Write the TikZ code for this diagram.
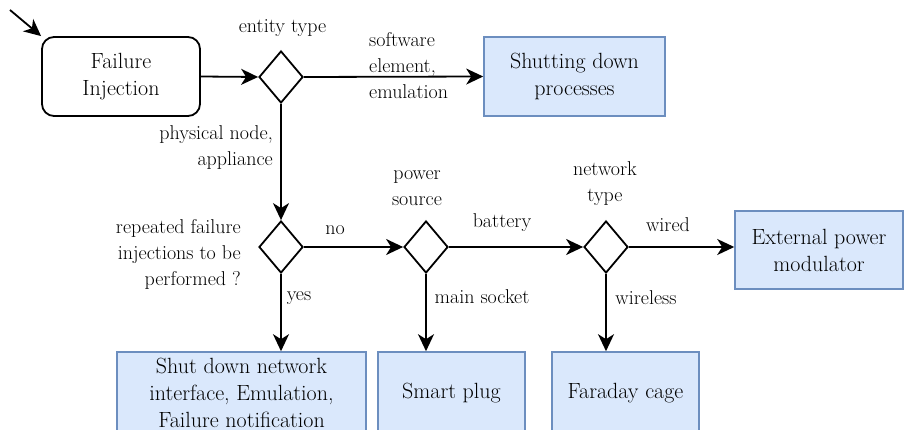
\documentclass[tikz,border=0pt]{standalone}
\usepackage{fontspec}
\usetikzlibrary{shapes.geometric,arrows.meta,calc}
\definecolor{boxfill}{HTML}{DAE8FC}
\definecolor{boxdraw}{HTML}{6C8EBF}
\begin{document}
\begin{tikzpicture}[x=1pt,y=-1pt,
  bigtxt/.style={font=\fontsize{22}{27}\selectfont},
  lbl/.style={font=\fontsize{20}{26}\selectfont, inner sep=0pt},
  actbox/.style={draw=boxdraw, fill=boxfill, line width=1.6pt, bigtxt, align=center, inner sep=0pt},
  decis/.style={draw, diamond, line width=1.8pt, minimum width=44pt, minimum height=52pt, inner sep=0pt},
  conn/.style={line width=1.8pt, -{Stealth[length=17pt,width=16pt,inset=5pt]}}
]
\useasboundingbox (0,0) rectangle (904,430);
\node[draw, rounded corners=12pt, line width=1.8pt, bigtxt, align=center, minimum width=158pt, minimum height=79pt, inner sep=0pt] (fi) at (121,76.5) {Failure\\Injection};
\node[decis] (d1) at (281,77) {};
\node[actbox, minimum width=181pt, minimum height=79pt] (sd) at (574.5,76.5) {Shutting down\\processes};
\node[decis] (d2) at (281,247) {};
\node[decis] (d3) at (426,247) {};
\node[decis] (d4) at (606,247) {};
\node[actbox, minimum width=168pt, minimum height=78pt] (ext) at (819,250) {External power\\modulator};
\node[actbox, minimum width=249pt, minimum height=82pt] (sdn) at (241.5,393) {Shut down network\\interface, Emulation,\\Failure notification};
\node[actbox, minimum width=147pt, minimum height=82pt] (sp) at (451.5,393) {Smart plug};
\node[actbox, minimum width=147pt, minimum height=82pt] (fc) at (625.5,393) {Faraday cage};

\coordinate (start) at (10,10);
\draw[conn] (start) -- (fi.north west);
\draw[conn] (fi.east) -- (d1.west);
\draw[conn] (d1.east) -- (sd.west);
\draw[conn] (d1.south) -- (d2.north);
\draw[conn] (d2.east) -- (d3.west);
\draw[conn] (d3.east) -- (d4.west);
\draw[conn] (d4.east) -- (d4.east -| ext.west);
\draw[conn] (d2.south) -- (d2.south |- sdn.north);
\draw[conn] (d3.south) -- (d3.south |- sp.north);
\draw[conn] (d4.south) -- (d4.south |- fc.north);

\node[lbl] (l1) at (282.5,28) {entity type};
\node[lbl, align=left, anchor=west] (l2) at (369,66) {software\\element,\\emulation};
\node[lbl, align=right, anchor=east] (l3) at (273,148) {physical node,\\appliance};
\node[lbl, align=right, anchor=east] (l4) at (241,254) {repeated failure\\injections to be\\performed ?};
\node[lbl] (l5) at (335,230) {no};
\node[lbl, align=center] (l6) at (417,188) {power\\source};
\node[lbl, align=center] (l7) at (605,183.5) {network\\type};
\node[lbl] (l8) at (502,223) {battery};
\node[lbl] (l9) at (668,225) {wired};
\node[lbl] (l10) at (299,298) {yes};
\node[lbl] (l11) at (482,297) {main socket};
\node[lbl] (l12) at (646,298) {wireless};
\end{tikzpicture}
\end{document}
